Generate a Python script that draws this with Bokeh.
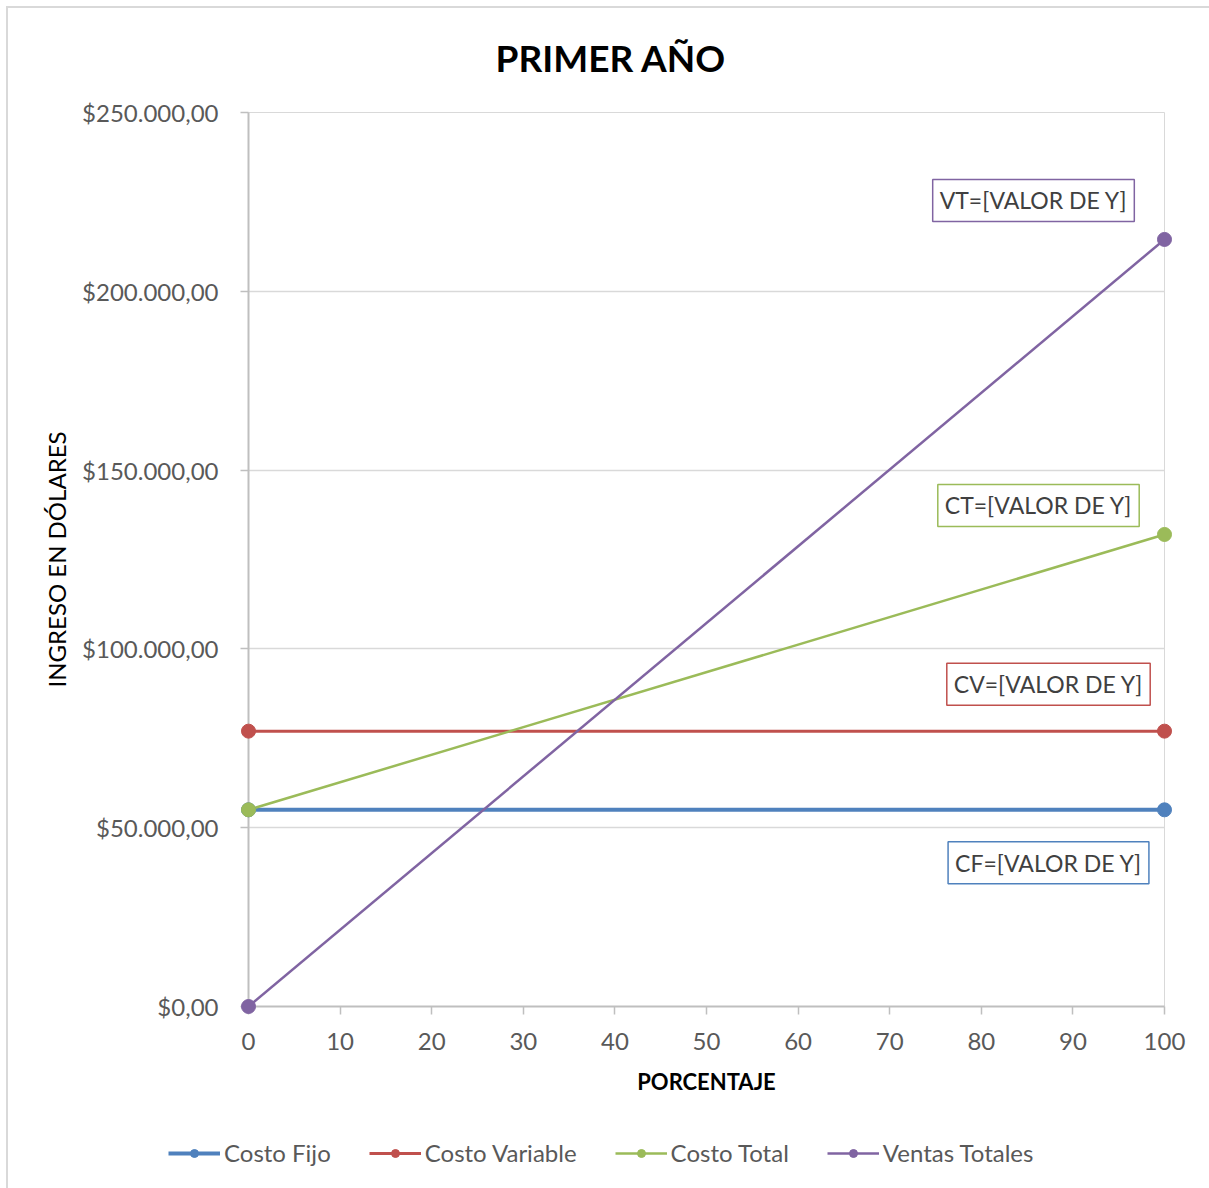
from bokeh.plotting import figure
from bokeh.layouts import column
from bokeh.models import Range1d, FixedTicker, Label, Legend, LegendItem
from bokeh.embed import file_html
from bokeh.resources import INLINE

# ---- data ----
porcentaje = [0, 100]
costo_fijo = [55000, 55000]
costo_variable = [77000, 77000]
costo_total = [55000, 132000]
ventas_totales = [0, 214500]

series_names = ["Costo Fijo", "Costo Variable", "Costo Total", "Ventas Totales"]
series_tags = ["CF", "CV", "CT", "VT"]
series_colors = ["#4F81BD", "#C0504D", "#9BBB59", "#8064A2"]

x_ticks = [0, 10, 20, 30, 40, 50, 60, 70, 80, 90, 100]
y_ticks = [0, 50000, 100000, 150000, 200000, 250000]
y_tick_labels = ["$0,00", "$50.000,00", "$100.000,00", "$150.000,00",
                 "$200.000,00", "$250.000,00"]

FONT = "Lato"

p = figure(frame_width=916, frame_height=894, output_backend="svg", toolbar_location=None,
           x_range=Range1d(0, 100), y_range=Range1d(0, 250000),
           min_border_left=248, min_border_right=45, min_border_top=112,
           min_border_bottom=122)
p.frame_align = False
p.border_fill_color = None
p.background_fill_color = "white"

p.title.text = "PRIMER AÑO"
p.title.align = "left"
p.title.offset = 247
p.title.text_font = FONT
p.title.text_font_size = "37px"
p.title.text_font_style = "bold"
p.title.text_color = "#000000"
p.title.standoff = 65

p.outline_line_color = "#D9D9D9"
p.outline_line_width = 1
p.xgrid.grid_line_color = None
p.ygrid.grid_line_color = "#D9D9D9"
p.ygrid.grid_line_width = 1.5
p.ygrid.ticker = FixedTicker(ticks=y_ticks)

# axes
p.xaxis.ticker = FixedTicker(ticks=x_ticks)
p.yaxis.ticker = FixedTicker(ticks=y_ticks)
p.yaxis.major_label_overrides = {t: l for t, l in zip(y_ticks, y_tick_labels)}
for ax in (p.xaxis, p.yaxis):
    ax.axis_line_color = "#BFBFBF"
    ax.axis_line_width = 2
    ax.major_tick_line_color = "#BFBFBF"
    ax.major_tick_line_width = 1.5
    ax.major_tick_in = 0
    ax.major_tick_out = 8
    ax.minor_tick_line_color = None
    ax.major_label_text_font = FONT
    ax.major_label_text_font_size = "24px"
    ax.major_label_text_color = "#595959"
    ax.axis_label_text_font = FONT
    ax.axis_label_text_color = "#000000"
    ax.axis_label_text_font_style = "normal"

p.xaxis.axis_label = "PORCENTAJE"
p.xaxis.axis_label_text_font_size = "22px"
p.xaxis.axis_label_text_font_style = "bold"
p.xaxis.major_label_standoff = 18
p.xaxis.axis_label_standoff = 15
p.yaxis.axis_label = "INGRESO EN DÓLARES"
p.yaxis.axis_label_text_font_size = "24px"
p.yaxis.major_label_standoff = 22
p.yaxis.axis_label_standoff = 8

all_series = [costo_fijo, costo_variable, costo_total, ventas_totales]
widths = [4, 3, 2.5, 2.5]
for name, ys, col, w in zip(series_names, all_series, series_colors, widths):
    p.line(porcentaje, ys, line_color=col, line_width=w)
    p.scatter(porcentaje, ys, size=14, fill_color=col, line_color=col, level="overlay")

# data labels at last point of each series
offsets = [(-116, -53), (-116, 47), (-126, 29), (-131, 39)]
for tag, ys, col, (dx, dy) in zip(series_tags, all_series, series_colors, offsets):
    lab = Label(x=porcentaje[-1], y=ys[-1], x_offset=dx, y_offset=dy,
                text=f"{tag}=[VALOR DE Y]", text_font=FONT, text_font_size="23px",
                text_color="#404040", text_align="center", text_baseline="middle",
                border_line_color=col, border_line_width=1.5,
                background_fill_color="white", padding=7)
    p.add_layout(lab)

# ---- legend strip (same series, drawn outside its visible range) ----
lf = figure(width=1209, height=60, output_backend="svg", toolbar_location=None,
            x_axis_type=None, y_axis_type=None,
            x_range=Range1d(-20, -10), y_range=Range1d(0, 250000),
            min_border=0)
lf.frame_align = False
lf.border_fill_color = None
lf.background_fill_color = None
lf.outline_line_color = None
lf.grid.grid_line_color = None
items = []
for name, ys, col, w in zip(series_names, all_series, series_colors, widths):
    ln = lf.line(porcentaje, ys, line_color=col, line_width=w)
    sc = lf.scatter(porcentaje, ys, size=14, fill_color=col, line_color=col)
    items.append(LegendItem(label=name, renderers=[ln, sc]))
legend = Legend(items=items, orientation="horizontal", location=(168, 21),
                label_text_font=FONT, label_text_font_size="24px",
                label_text_color="#595959", glyph_width=52, glyph_height=20,
                label_standoff=4, spacing=38, border_line_color=None,
                background_fill_alpha=0, margin=0, padding=0)
lf.add_layout(legend)

layout = column(p, lf, spacing=0)
layout.styles = {
    "background-color": "white",
    "background-image": "linear-gradient(#D9D9D9, #D9D9D9), linear-gradient(#D9D9D9, #D9D9D9)",
    "background-size": "2px calc(100% - 6px), calc(100% - 6px) 2px",
    "background-position": "6px 6px, 6px 6px",
    "background-repeat": "no-repeat",
}

open("out.html", "w").write(file_html(layout, INLINE))
